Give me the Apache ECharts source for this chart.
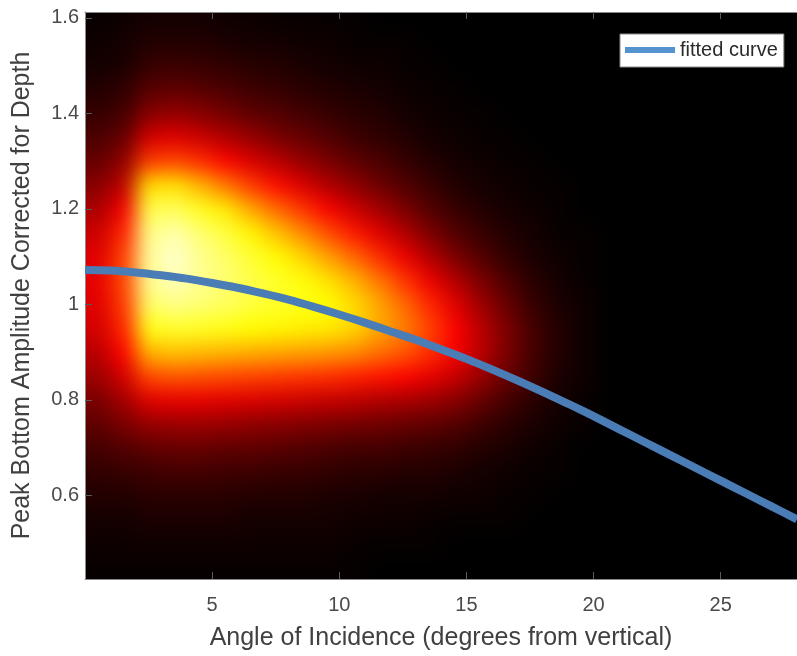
<!DOCTYPE html>
<html>
<head>
<meta charset="utf-8">
<script src="https://cdn.jsdelivr.net/npm/echarts@6/dist/echarts.min.js"></script>
<style>
  html, body { margin: 0; padding: 0; background: #fff; }
  #stage { position: relative; width: 797px; height: 656px; overflow: hidden; }
  #heatClip { position: absolute; left: 85px; top: 12px; width: 712px; height: 568px; overflow: hidden; background: #000; }
  #heat { position: absolute; left: -40px; top: -40px; width: 797px; height: 648px; filter: blur(10px); }
  #main { position: absolute; left: 0; top: 0; width: 797px; height: 656px; }
</style>
</head>
<body>
<div id="stage">
  <div id="heatClip"><div id="heat"></div></div>
  <div id="main"></div>
</div>
<script>
// Fitted amplitude curve (angle in degrees, corrected amplitude)
const curveX = [0, 1, 2, 3, 4, 5, 6, 7, 8, 9, 10, 11, 12, 13, 14, 15, 16, 17, 18, 19, 20, 21, 22, 23, 24, 25, 26, 27, 28];
const curveY = [1.072, 1.071, 1.067, 1.061, 1.054, 1.045, 1.035, 1.023, 1.010, 0.995, 0.979, 0.962, 0.944, 0.926,
                0.906, 0.886, 0.864, 0.841, 0.817, 0.792, 0.766, 0.739, 0.712, 0.685, 0.658, 0.631, 0.604, 0.577, 0.550];

// Density grid: x cells 1 degree wide, y cells 0.05 tall (cell centres)
const xCells = [0.5, 1.5, 2.5, 3.5, 4.5, 5.5, 6.5, 7.5, 8.5, 9.5, 10.5, 11.5, 12.5, 13.5,
                14.5, 15.5, 16.5, 17.5, 18.5, 19.5];
const yCells = [1.60, 1.55, 1.50, 1.45, 1.40, 1.35, 1.30, 1.25, 1.20, 1.15, 1.10, 1.05,
                1.00, 0.95, 0.90, 0.85, 0.80, 0.75, 0.70, 0.65, 0.60, 0.55, 0.50, 0.45];
const cellW = 1, cellH = 0.05;

// One column per x cell (top row first); the rest of the plane is empty
const densityColumns = [
  [1, 2, 3, 5, 8, 11, 15, 20, 25, 30, 33, 34, 33, 31, 27, 23, 18, 14, 10, 7, 5, 3, 2, 1],
  [2, 3, 4, 7, 10, 15, 21, 28, 36, 43, 47, 48, 46, 43, 38, 31, 24, 18, 12, 8, 5, 3, 2, 1],
  [3, 5, 8, 13, 20, 31, 46, 70, 82, 88, 90, 89, 85, 77, 64, 48, 33, 22, 14, 9, 6, 4, 2, 1],
  [3, 5, 9, 14, 22, 33, 48, 71, 84, 92, 95, 93, 88, 79, 66, 50, 34, 23, 15, 10, 6, 4, 2, 1],
  [3, 5, 8, 13, 20, 30, 44, 64, 78, 86, 89, 89, 86, 78, 65, 49, 34, 23, 15, 10, 6, 4, 2, 1],
  [2, 4, 7, 11, 17, 26, 38, 55, 72, 81, 85, 86, 84, 77, 64, 48, 33, 22, 14, 9, 6, 4, 2, 1],
  [2, 3, 6, 9, 14, 22, 32, 46, 62, 74, 80, 82, 81, 75, 63, 47, 32, 21, 14, 9, 5, 3, 2, 1],
  [1, 3, 5, 8, 12, 18, 27, 39, 53, 66, 75, 79, 79, 74, 62, 46, 31, 20, 13, 8, 5, 3, 2, 1],
  [1, 2, 4, 6, 10, 15, 22, 32, 45, 58, 69, 76, 77, 73, 61, 45, 30, 19, 12, 8, 5, 3, 2, 1],
  [1, 2, 3, 5, 8, 12, 18, 26, 37, 49, 61, 71, 75, 72, 60, 44, 29, 18, 11, 7, 4, 3, 2, 1],
  [1, 1, 2, 4, 6, 9, 14, 21, 30, 41, 53, 64, 70, 69, 58, 42, 28, 17, 10, 6, 4, 2, 1, 1],
  [0, 1, 2, 3, 5, 7, 11, 16, 24, 33, 44, 55, 62, 62, 54, 40, 26, 16, 10, 6, 3, 2, 1, 0],
  [0, 1, 1, 2, 3, 5, 8, 12, 18, 26, 35, 45, 53, 56, 50, 38, 25, 15, 9, 5, 3, 2, 1, 0],
  [0, 0, 1, 1, 2, 3, 5, 8, 12, 18, 26, 35, 43, 47, 44, 34, 23, 14, 8, 5, 3, 1, 1, 0],
  [0, 0, 0, 1, 1, 2, 3, 5, 8, 12, 18, 26, 33, 37, 36, 29, 20, 12, 7, 4, 2, 1, 0, 0],
  [0, 0, 0, 0, 1, 1, 2, 3, 5, 8, 12, 18, 23, 27, 27, 22, 15, 9, 5, 3, 2, 1, 0, 0],
  [0, 0, 0, 0, 0, 1, 1, 2, 3, 5, 7, 11, 15, 18, 18, 15, 10, 6, 4, 2, 1, 1, 0, 0],
  [0, 0, 0, 0, 0, 0, 1, 1, 2, 3, 4, 6, 8, 10, 10, 9, 6, 4, 2, 1, 1, 0, 0, 0],
  [0, 0, 0, 0, 0, 0, 0, 1, 1, 1, 2, 3, 4, 5, 5, 4, 3, 2, 1, 1, 0, 0, 0, 0],
  [0, 0, 0, 0, 0, 0, 0, 0, 0, 1, 1, 1, 2, 2, 2, 2, 1, 1, 0, 0, 0, 0, 0, 0]
];

const xTicks = [5, 10, 15, 20, 25];
const yTicks = [0.6, 0.8, 1, 1.2, 1.4, 1.6];

const X_MIN = 0, X_MAX = 28, Y_MIN = 0.425, Y_MAX = 1.6125;
const FONT = '"Liberation Sans", Arial, Helvetica, sans-serif';

// ---- density layer (hot colour map), softened by the CSS blur on #heat ----
const heatData = [];
densityColumns.forEach(function (col, xi) {
  col.forEach(function (v, ri) {
    heatData.push([xCells[xi], yCells[ri], v]);
  });
});

const BLEED = 40; // edge cells run past the frame so the blur keeps their colour
function renderCell(params, api) {
  const xc = api.value(0), yc = api.value(1);
  const p0 = api.coord([xc - cellW / 2, yc + cellH / 2]);
  const p1 = api.coord([xc + cellW / 2, yc - cellH / 2]);
  let x0 = p0[0], y0 = p0[1], x1 = p1[0], y1 = p1[1];
  if (xc - cellW / 2 <= X_MIN) x0 -= BLEED;
  if (yc + cellH / 2 >= Y_MAX) y0 -= BLEED;
  if (yc - cellH / 2 <= Y_MIN) y1 += BLEED;
  return {
    type: 'rect',
    shape: { x: x0, y: y0, width: x1 - x0 + 0.6, height: y1 - y0 + 0.6 },
    style: { fill: api.visual('color') }
  };
}

const heat = echarts.init(document.getElementById('heat'), null, { renderer: 'canvas' });
heat.setOption({
  backgroundColor: '#000',
  animation: false,
  grid: { left: 40, top: 40, width: 717, height: 568 },
  xAxis: { type: 'value', min: X_MIN, max: X_MAX, show: false },
  yAxis: { type: 'value', min: Y_MIN, max: Y_MAX, show: false },
  visualMap: {
    show: false, type: 'continuous', min: 0, max: 100, seriesIndex: 0, dimension: 2,
    inRange: { color: ['#000000', '#550000', '#aa0000', '#ff0000', '#ff5500', '#ffaa00', '#ffff00', '#ffff80', '#ffffff'] }
  },
  series: [{
    type: 'custom',
    renderItem: renderCell,
    data: heatData,
    clip: false,
    silent: true
  }]
});

// ---- axes, curve and legend ----
const main = echarts.init(document.getElementById('main'), null, { renderer: 'canvas' });
const axisLineStyle = { color: '#8a8a8a', width: 1 };
const tickStyle = { color: '#5a5a5a', width: 1 };
main.setOption({
  backgroundColor: 'transparent',
  animation: false,
  grid: { left: 85, top: 12, width: 717, height: 568 },
  legend: {
    left: 620, top: 34,
    data: [{ name: 'fitted curve', icon: 'rect', itemStyle: { color: '#5493d0' } }],
    itemWidth: 50, itemHeight: 6,
    padding: [6, 6, 7, 5],
    backgroundColor: '#ffffff',
    borderColor: '#8c8c8c', borderWidth: 1,
    textStyle: { fontSize: 20, color: '#2a2a2a', fontFamily: FONT }
  },
  xAxis: [{
    type: 'value', min: X_MIN, max: X_MAX, position: 'bottom',
    name: 'Angle of Incidence (degrees from vertical)',
    nameLocation: 'middle', nameGap: 47,
    nameTextStyle: { fontSize: 25, color: '#404040', fontFamily: FONT },
    axisLine: { show: true, onZero: false, lineStyle: axisLineStyle },
    axisTick: { show: true, inside: true, length: 7, customValues: xTicks, lineStyle: tickStyle },
    axisLabel: { customValues: xTicks, fontSize: 20, color: '#4a4a4a', margin: 16, fontFamily: FONT },
    splitLine: { show: false }
  }, {
    type: 'value', min: X_MIN, max: X_MAX, position: 'top',
    axisLine: { show: true, onZero: false, lineStyle: axisLineStyle },
    axisTick: { show: true, inside: true, length: 7, customValues: xTicks, lineStyle: tickStyle },
    axisLabel: { show: false },
    splitLine: { show: false }
  }],
  yAxis: [{
    type: 'value', min: Y_MIN, max: Y_MAX, position: 'left',
    name: 'Peak Bottom Amplitude Corrected for Depth',
    nameLocation: 'middle', nameGap: 50,
    nameTextStyle: { fontSize: 25, color: '#404040', fontFamily: FONT },
    axisLine: { show: true, onZero: false, lineStyle: axisLineStyle },
    axisTick: { show: true, inside: true, length: 7, customValues: yTicks, lineStyle: tickStyle },
    axisLabel: { customValues: yTicks, fontSize: 20, color: '#4a4a4a', margin: 6, fontFamily: FONT },
    splitLine: { show: false }
  }],
  series: [{
    name: 'fitted curve',
    type: 'line',
    data: curveX.map(function (x, i) { return [x, curveY[i]]; }),
    showSymbol: false,
    smooth: 0.3,
    lineStyle: { width: 8, color: '#4a7cb5' },
    itemStyle: { color: '#4a7cb5' },
    clip: true
  }]
});
</script>
</body>
</html>
